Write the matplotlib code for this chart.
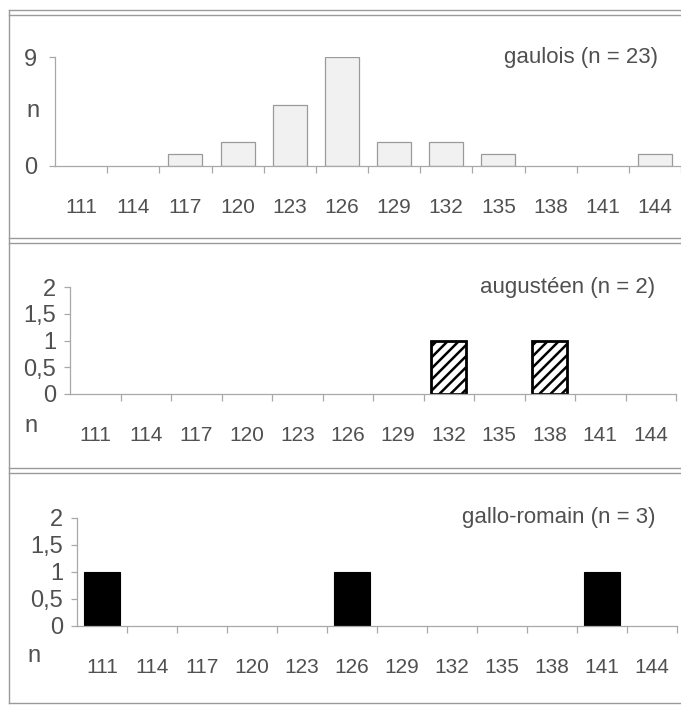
import numpy as np
import matplotlib
matplotlib.use("Agg")
import matplotlib.pyplot as plt
from matplotlib.lines import Line2D

plt.rcParams['font.family'] = ['Liberation Sans Narrow', 'Liberation Sans', 'DejaVu Sans']
plt.rcParams['hatch.linewidth'] = 1.8

# DATA
classes = [111, 114, 117, 120, 123, 126, 129, 132, 135, 138, 141, 144]
gaulois = [0, 0, 1, 2, 5, 9, 2, 2, 1, 0, 0, 1]
augusteen = [0, 0, 0, 0, 0, 0, 0, 1, 0, 1, 0, 0]
gallo_romain = [1, 0, 0, 0, 0, 1, 0, 0, 0, 0, 1, 0]

titles = ["gaulois (n = 23)", "augustéen (n = 2)", "gallo-romain (n = 3)"]
small_yticks = [0, 0.5, 1, 1.5, 2]
small_ylabels = ["0", "0,5", "1", "1,5", "2"]

TXT = "#505050"
AX = "#a8a8a8"
W, H = 681, 705

fig = plt.figure(figsize=(6.81, 7.05), dpi=100)

def fx(px):
    return px / W

def fy(py):
    return 1 - py / H

# panel frames (grey, double line between panels)
for y in [10, 15, 238, 243, 468, 473, 703]:
    fig.add_artist(Line2D([fx(9), 1], [fy(y), fy(y)], color="#9a9a9a", lw=1.0))
fig.add_artist(Line2D([fx(9), fx(9)], [fy(10), fy(703)], color="#9a9a9a", lw=1.0))

# axes boxes in pixels: left, right, top(ymax), bottom(0)
boxes = [(55, 681, 57, 166), (70, 676, 287, 394), (77, 677, 518, 626)]
x = np.arange(len(classes))


def style_axes(ax, ypad):
    for s in ["top", "right"]:
        ax.spines[s].set_visible(False)
    for s in ["left", "bottom"]:
        ax.spines[s].set_color(AX)
        ax.spines[s].set_linewidth(0.9)
    ax.set_xlim(-0.5, len(classes) - 0.5)
    ax.set_xticks(x)
    ax.set_xticklabels([str(c) for c in classes], color=TXT, fontsize=15)
    ax.set_xticks(np.arange(0.5, len(classes), 1.0), minor=True)
    ax.tick_params(axis="x", which="major", length=0, pad=23)
    ax.tick_params(axis="x", which="minor", length=5, color=AX, width=0.9)
    ax.tick_params(axis="y", length=4, color=AX, width=0.9, labelcolor=TXT,
                   labelsize=17, pad=ypad)
    ax.patch.set_alpha(0)


axes = []
for (l, r, t, b), pad in zip(boxes, [9, 6, 6]):
    ax = fig.add_axes([fx(l), fy(b), (r - l) / W, (b - t) / H])
    style_axes(ax, pad)
    axes.append(ax)

# gaulois
ax1 = axes[0]
ax1.bar(x, gaulois, width=0.65, color="#f1f1f1", edgecolor="#9a9a9a",
        linewidth=[0.9 if v > 0 else 0 for v in gaulois])
ax1.set_ylim(0, 9)
ax1.set_yticks([0, 9])
ax1.set_yticklabels(["0", "9"])
fig.text(fx(33), fy(111), "n", ha="center", va="center", fontsize=17, color=TXT)

# augusteen
ax2 = axes[1]
ax2.bar(x, augusteen, width=0.69, color="white", edgecolor="black", hatch="///",
        linewidth=[2.0 if v > 0 else 0 for v in augusteen])
ax2.set_ylim(0, 2)
ax2.set_yticks(small_yticks)
ax2.set_yticklabels(small_ylabels)

# gallo-romain
ax3 = axes[2]
ax3.bar(x, gallo_romain, width=0.72, color="black", edgecolor="black",
        linewidth=[0.8 if v > 0 else 0 for v in gallo_romain])
ax3.set_ylim(0, 2)
ax3.set_yticks(small_yticks)
ax3.set_yticklabels(small_ylabels)

# "n" label on the x label row for the small panels
fig.text(fx(31), fy(426), "n", ha="center", va="center", fontsize=17, color=TXT)
fig.text(fx(34), fy(656), "n", ha="center", va="center", fontsize=17, color=TXT)

# titles
fig.text(fx(658), fy(57), titles[0], ha="right", va="center", fontsize=16, color=TXT)
fig.text(fx(655), fy(288), titles[1], ha="right", va="center", fontsize=16, color=TXT)
fig.text(fx(655), fy(518), titles[2], ha="right", va="center", fontsize=16, color=TXT)

fig.savefig("out.png", dpi=100)
